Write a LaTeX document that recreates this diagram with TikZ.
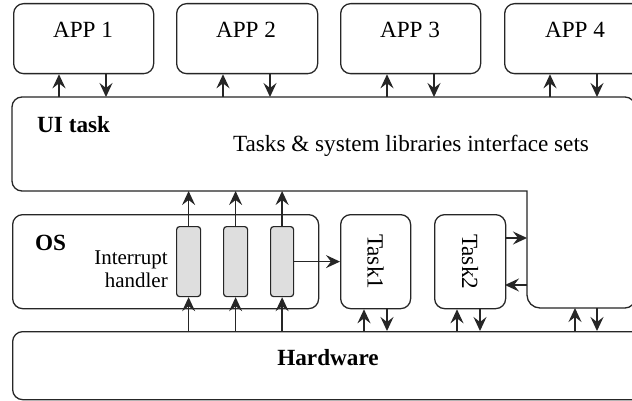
\documentclass[tikz,border=0pt]{standalone}
\usepackage{fontspec}
\setmainfont{Liberation Serif}
\usetikzlibrary{arrows.meta}
\begin{document}
\begin{tikzpicture}[x=1pt,y=1pt,
  box/.style={draw=black!85,line width=1.3pt,rounded corners=10pt},
  appbox/.style={box,minimum width=140pt,minimum height=70pt,anchor=north west,inner sep=0pt},
  taskbox/.style={box,minimum width=70pt,minimum height=94pt,anchor=north west,inner sep=0pt},
  greybox/.style={draw=black!85,line width=1.2pt,fill=black!13,rounded corners=3pt,minimum width=24pt,minimum height=70pt,anchor=north west,inner sep=0pt},
  arr/.style={line width=1.3pt,draw=black!85,-{Stealth[length=14pt,width=13pt,inset=5pt]}},
  lbl/.style={font=\fontsize{23.2}{27}\selectfont,inner sep=0pt,anchor=base},
  blbl/.style={lbl,font=\fontsize{23.2}{27}\selectfont\bfseries}
]
\useasboundingbox (0,0) rectangle (632,-401);
\clip (0,0) rectangle (632,-401);
\fill[white] (0,0) rectangle (632,-401);

% APP boxes
\node[appbox] (app1) at (13,-3) {};
\node[appbox,minimum width=141pt] (app2) at (176,-3) {};
\node[appbox] (app3) at (340,-3) {};
\node[appbox,minimum width=142pt] (app4) at (504,-3) {};
\node[lbl] (t1) at (83,-38) {APP 1};
\node[lbl] (t2) at (246,-38) {APP 2};
\node[lbl] (t3) at (410,-38) {APP 3};
\node[lbl] (t4) at (575,-38) {APP 4};

% UI task (L-shaped)
\draw[draw=black!85,line width=1.3pt] (527,-191) -- (22,-191)
  arc[start angle=270,end angle=180,radius=10] -- (12,-107)
  arc[start angle=180,end angle=90,radius=10] -- (625,-97)
  arc[start angle=90,end angle=0,radius=10] -- (635,-298)
  arc[start angle=0,end angle=-90,radius=10] -- (540,-308)
  arc[start angle=270,end angle=180,radius=13] -- cycle;
\coordinate (uitop) at (0,-97);
\coordinate (uibot) at (0,-191);
\coordinate (uiinner) at (527,0);
\coordinate (uilow) at (0,-308);
\node[blbl,anchor=base west] (uit) at (37,-133) {UI task};
\node[lbl] (uitxt) at (411,-152) {Tasks \& system libraries interface sets};

% OS
\node[box,minimum width=306pt,minimum height=94pt,anchor=north west,inner sep=0pt] (os) at (12,-214) {};
\node[blbl,anchor=base west] (ost) at (35,-250) {OS};
\node[font=\fontsize{21}{23}\selectfont,align=right,anchor=north east,inner sep=0pt] (ih) at (168,-251) {Interrupt\\handler};
\node[greybox] (g1) at (176,-226) {};
\node[greybox] (g2) at (223,-226) {};
\node[greybox,minimum width=23pt] (g3) at (270,-226) {};

% Tasks
\node[taskbox] (task1) at (340,-214) {};
\node[taskbox,minimum width=71pt] (task2) at (434,-214) {};
\node[lbl,rotate=-90,anchor=center] at (task1.center) {Task1};
\node[lbl,rotate=-90,anchor=center] at (task2.center) {Task2};

% Hardware
\node[box,minimum width=640pt,minimum height=68pt,anchor=north west,inner sep=0pt] (hw) at (12,-331) {};
\node[blbl] (hwt) at (328,-365) {Hardware};

% APP <-> UI arrows
\foreach \i/\u/\d in {1/59/106, 2/223/270, 3/387/434, 4/550/597}{
  \coordinate (up\i) at (\u,-97);
  \coordinate (dn\i) at (\d,-97);
  \draw[arr] (up\i) -- (up\i |- app\i.south);
  \draw[arr] (dn\i |- app\i.south) -- (dn\i);
}

% Interrupt handlers
\foreach \g in {g1,g2,g3}{
  \draw[arr] (\g.north) -- (\g.north |- uibot);
  \draw[arr] (\g.south |- hw.north) -- (\g.south);
}
\draw[arr] (g3.east) -- (g3.east -| task1.west);

% Task2 <-> UI
\coordinate (t2a) at (505,-238);
\coordinate (t2b) at (505,-285);
\draw[arr] (t2a) -- (t2a -| uiinner);
\draw[arr] (t2b -| uiinner) -- (t2b);

% Hardware <-> tasks / UI
\coordinate (h1u) at (364,-331);
\coordinate (h1d) at (387,-331);
\coordinate (h2u) at (457,-331);
\coordinate (h2d) at (480,-331);
\coordinate (h3u) at (575,-331);
\coordinate (h3d) at (597,-331);
\draw[arr] (h1u) -- (h1u |- task1.south);
\draw[arr] (h1d |- task1.south) -- (h1d);
\draw[arr] (h2u) -- (h2u |- task2.south);
\draw[arr] (h2d |- task2.south) -- (h2d);
\draw[arr] (h3u) -- (h3u |- uilow);
\draw[arr] (h3d |- uilow) -- (h3d);
\end{tikzpicture}
\end{document}
